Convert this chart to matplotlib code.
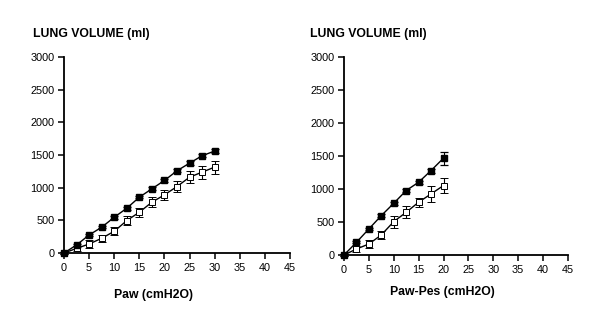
import matplotlib
matplotlib.use("Agg")
import matplotlib.pyplot as plt

plt.rcParams['font.family'] = ['Liberation Sans', 'DejaVu Sans']

# left panel: lung volume vs Paw
paw = [0, 2.5, 5, 7.5, 10, 12.5, 15, 17.5, 20, 22.5, 25, 27.5, 30]
paw_filled = [0, 123, 276, 394, 547, 685, 854, 982, 1110, 1258, 1375, 1488, 1560]
paw_filled_err = [10, 15, 15, 15, 20, 20, 20, 20, 25, 25, 25, 25, 30]
paw_open = [0, 70, 138, 225, 332, 496, 624, 777, 890, 1017, 1160, 1237, 1314]
paw_open_err = [20, 40, 55, 55, 60, 65, 70, 75, 80, 85, 90, 100, 100]

# right panel: lung volume vs Paw-Pes
ptp = [0, 2.5, 5, 7.5, 10, 12.5, 15, 17.5, 20]
ptp_filled = [0, 192, 395, 597, 784, 977, 1103, 1280, 1468]
ptp_filled_err = [10, 15, 20, 20, 20, 25, 25, 30, 100]
ptp_open = [0, 91, 167, 304, 506, 648, 800, 926, 1053]
ptp_open_err = [20, 50, 55, 60, 90, 90, 70, 116, 112]

x_ticks = list(range(0, 50, 5))
y_ticks = list(range(0, 3500, 500))

fig = plt.figure(figsize=(6, 3.22), dpi=100)
ax1 = fig.add_axes([0.1067, 0.2143, 0.3767, 0.609])
ax2 = fig.add_axes([0.5733, 0.208, 0.3733, 0.615])


def draw_panel(ax, x, filled, filled_err, opn, opn_err):
    ax.errorbar(x, opn, yerr=opn_err, color='black', lw=1.0, elinewidth=0.8,
                capsize=3, capthick=0.9, marker='s', ms=4, mfc='white',
                mec='black', mew=0.7, clip_on=False, zorder=3)
    ax.errorbar(x, filled, yerr=filled_err, color='black', lw=1.0, elinewidth=0.8,
                capsize=3, capthick=0.9, marker='s', ms=4.8, mfc='black',
                mec='black', clip_on=False, zorder=4)
    ax.set_xlim(0, 45)
    ax.set_ylim(0, 3000)
    ax.set_xticks(x_ticks)
    ax.set_yticks(y_ticks)
    for s in ['top', 'right']:
        ax.spines[s].set_visible(False)
    for s in ['left', 'bottom']:
        ax.spines[s].set_linewidth(1.3)
    ax.tick_params(direction='out', length=4, width=1.1, labelsize=7.8, pad=3)


draw_panel(ax1, paw, paw_filled, paw_filled_err, paw_open, paw_open_err)
draw_panel(ax2, ptp, ptp_filled, ptp_filled_err, ptp_open, ptp_open_err)

fig.text(0.055, 0.894, "LUNG VOLUME (ml)", fontsize=8.8, fontweight='bold', va='center', ha='left')
fig.text(0.517, 0.894, "LUNG VOLUME (ml)", fontsize=8.8, fontweight='bold', va='center', ha='left')
fig.text(0.255, 0.084, "Paw (cmH2O)", fontsize=8.8, fontweight='bold', va='center', ha='center')
fig.text(0.737, 0.093, "Paw-Pes (cmH2O)", fontsize=8.8, fontweight='bold', va='center', ha='center')

fig.savefig("out.png", dpi=100)
